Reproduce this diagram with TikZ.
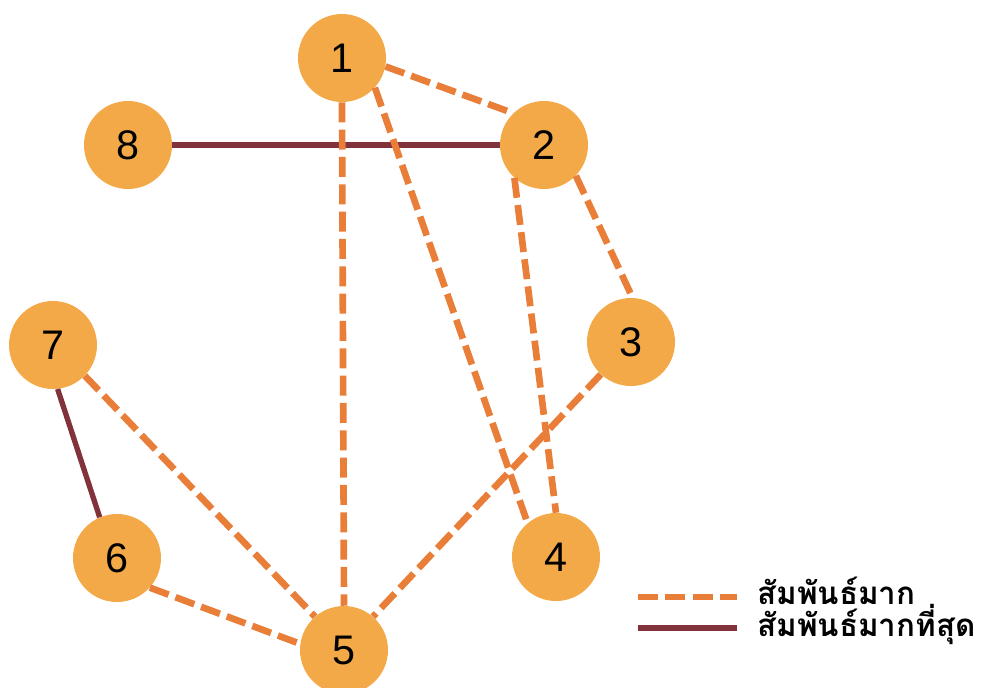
\documentclass[tikz,border=0pt]{standalone}
\usepackage{fontspec}
\setmainfont{Liberation Sans}
\newfontfamily\thaifont[Script=Thai]{Loma}
\usepackage{xcolor}
\usetikzlibrary{positioning}
\definecolor{nodeorange}{RGB}{244,169,73}
\definecolor{relorange}{RGB}{233,126,56}
\definecolor{strongred}{RGB}{130,50,58}

\begin{document}
\begin{tikzpicture}[
  x=0.75pt, y=-0.75pt,
  person/.style = {circle, fill=nodeorange, minimum size=66pt, inner sep=0pt,
    font=\fontsize{31}{31}\selectfont},
  rel/.style = {relorange, line width=5pt, dash pattern=on 15pt off 5.5pt},
  strong/.style = {strongred, line width=4pt},
  lbl/.style = {anchor=base west, inner sep=0pt,
    font=\thaifont\bfseries\fontsize{23.5}{23.5}\selectfont},
]
\useasboundingbox (0,0) rectangle (984,687);
\node[person] (n1) at (342,58) {1};
\node[person] (n2) at (544,145) {2};
\node[person] (n3) at (631,342) {3};
\node[person] (n4) at (556,557) {4};
\node[person] (n5) at (344,650) {5};
\node[person] (n6) at (117,558) {6};
\node[person] (n7) at (53,345) {7};
\node[person] (n8) at (128,145) {8};
\draw[strong] (n8.east) -- (n2.west);
\draw[strong] (n7.-84) -- (n6.113);
\draw[rel] (n1.-11) -- (n2.134);
\draw[rel] (n1.south) -- (n5.north);
\draw[rel] (n1.-42) -- (n4.130);
\draw[rel] (n2.228) -- (n4.90);
\draw[rel] (n2.-44) -- (n3.88);
\draw[rel] (n3.227) -- (n5.49);
\draw[rel] (n7.-44) -- (n5.131);
\draw[rel] (n6.-42) -- (n5.172);
\coordinate (lgA) at (638,597);
\coordinate (lgB) at (737,597);
\coordinate (lgC) at (638,628);
\coordinate (lgD) at (737,628);
\draw[rel] (lgA) -- (lgB);
\draw[strong] (lgC) -- (lgD);
\node[lbl] (txtA) at (757,604) {สัมพันธ์มาก};
\node[lbl] (txtB) at (757,636) {สัมพันธ์มากที่สุด};
\end{tikzpicture}
\end{document}
